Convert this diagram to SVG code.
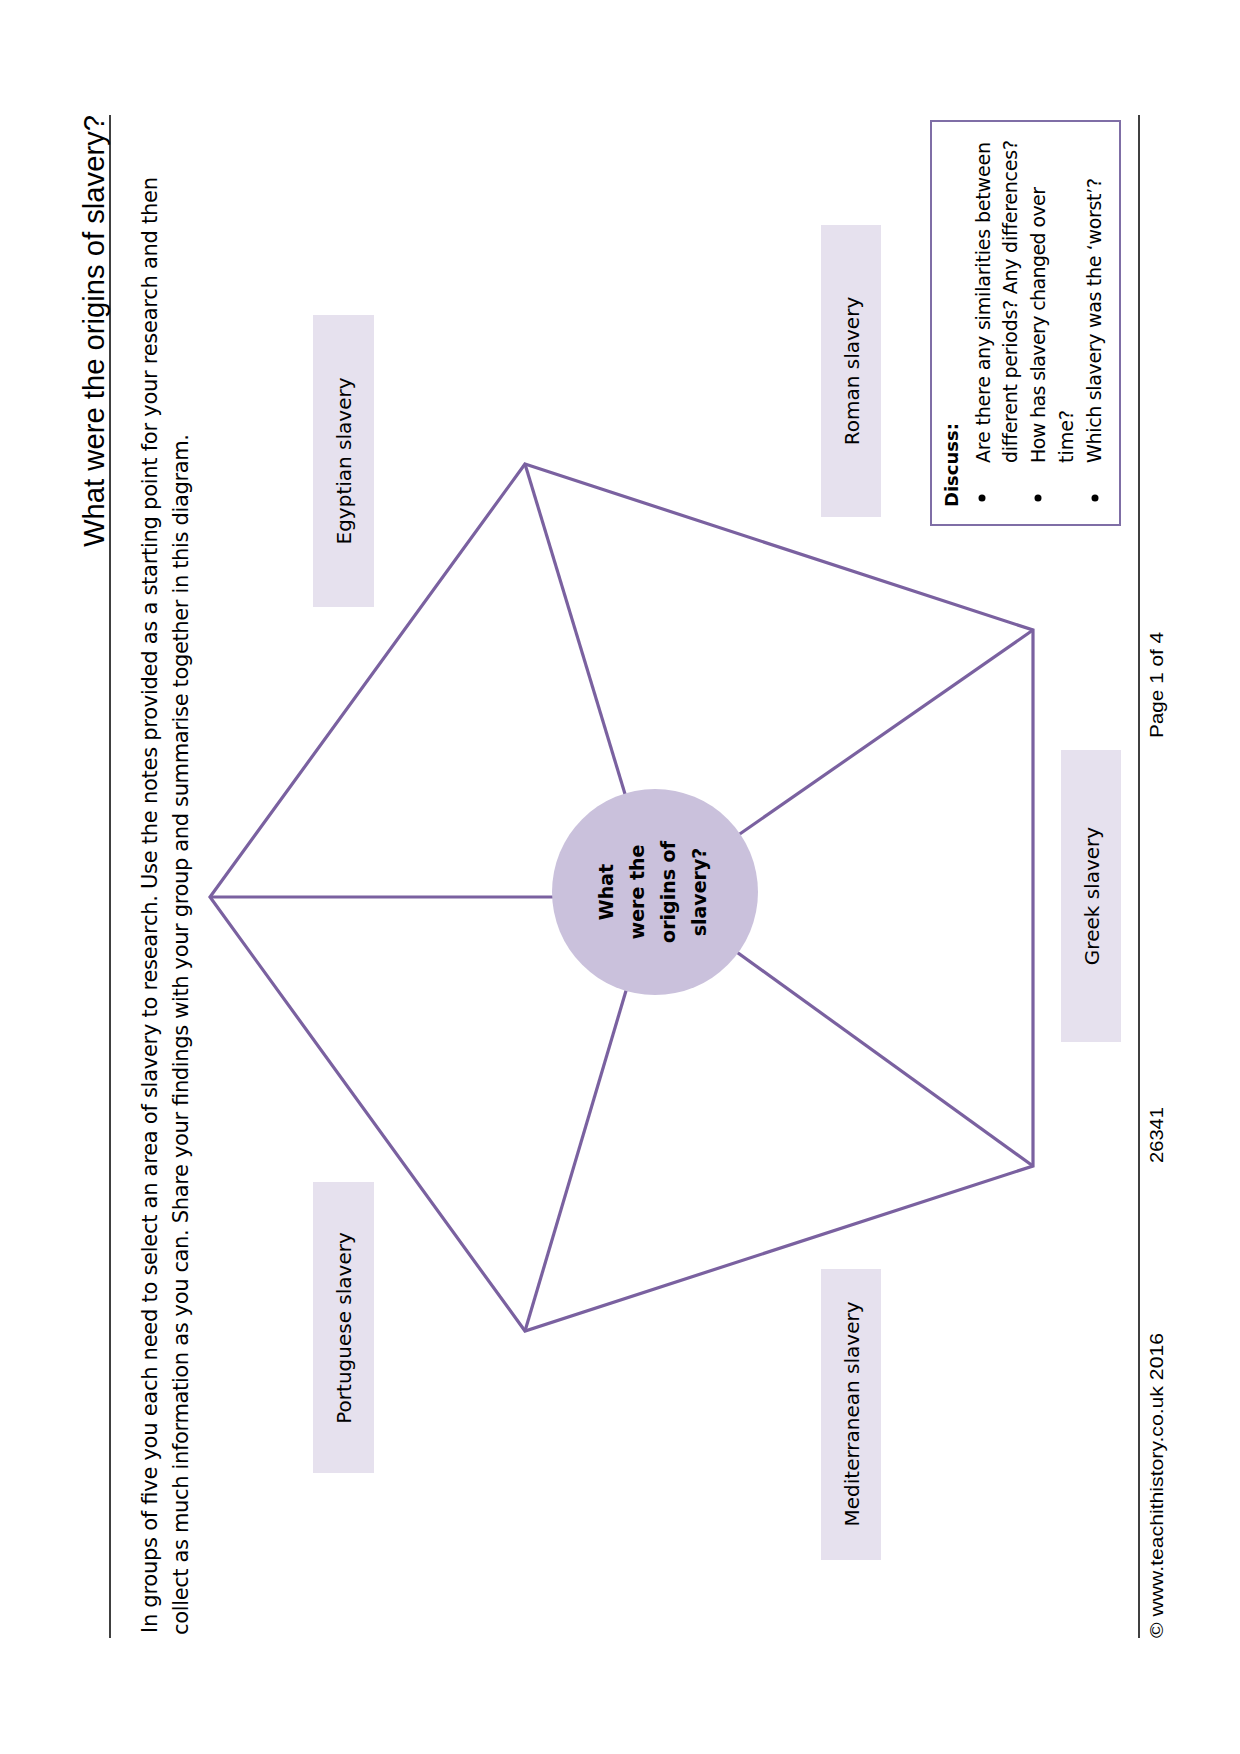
<svg xmlns="http://www.w3.org/2000/svg" width="1240" height="1754" viewBox="0 0 1240 1754">
<style>
.rule{stroke:#000;stroke-width:1.5}
.edge{stroke:#7a61a0;stroke-width:3.2;fill:none;stroke-linejoin:miter}
.lbl{fill:#e6e1ee}
.body{font-family:"DejaVu Sans","Liberation Sans",sans-serif;fill:#000}
.sans{font-family:"Liberation Sans",Arial,sans-serif;fill:#000}
</style>
<rect width="1240" height="1754" fill="#fff"/>
<g id="header">
<line class="rule" x1="110" y1="115" x2="110" y2="1638"/>
<text class="sans" font-size="29" textLength="432" lengthAdjust="spacingAndGlyphs" transform="translate(104,547) rotate(-90)">What were the origins of slavery?</text>
<text class="body" font-size="21" textLength="1456" transform="translate(157,1633) rotate(-90)">In groups of five you each need to select an area of slavery to research. Use the notes provided as a starting point for your research and then</text>
<text class="body" font-size="21" textLength="1201" transform="translate(188,1635) rotate(-90)">collect as much information as you can. Share your findings with your group and summarise together in this diagram.</text>
</g>
<g id="connectors">
<polygon class="edge" points="525,464 1033,630 1033,1166 525,1331 210,897"/>
<line class="edge" x1="525" y1="464" x2="655" y2="893"/>
<line class="edge" x1="1033" y1="630" x2="655" y2="893"/>
<line class="edge" x1="1033" y1="1166" x2="655" y2="893"/>
<line class="edge" x1="525" y1="1331" x2="655" y2="893"/>
<line class="edge" x1="210" y1="897" x2="655" y2="897"/>
</g>
<g id="center">
<circle cx="655" cy="892" r="103" fill="#cac1dc"/>
<g class="body" font-size="19" font-weight="bold" text-anchor="middle">
<text transform="translate(613,892) rotate(-90)">What</text>
<text transform="translate(644,892) rotate(-90)">were the</text>
<text transform="translate(675,892) rotate(-90)">origins of</text>
<text transform="translate(706,892) rotate(-90)">slavery?</text>
</g>
</g>
<g id="egyptian">
<rect class="lbl" x="313" y="315" width="61" height="292"/>
<text class="body" font-size="20" text-anchor="middle" transform="translate(351,461) rotate(-90)">Egyptian slavery</text>
</g>
<g id="portuguese">
<rect class="lbl" x="313" y="1182" width="61" height="291"/>
<text class="body" font-size="20" text-anchor="middle" transform="translate(351,1328) rotate(-90)">Portuguese slavery</text>
</g>
<g id="roman">
<rect class="lbl" x="821" y="225" width="60" height="292"/>
<text class="body" font-size="20" text-anchor="middle" transform="translate(859,371) rotate(-90)">Roman slavery</text>
</g>
<g id="mediterranean">
<rect class="lbl" x="821" y="1269" width="60" height="291"/>
<text class="body" font-size="20" text-anchor="middle" transform="translate(859,1414) rotate(-90)">Mediterranean slavery</text>
</g>
<g id="greek">
<rect class="lbl" x="1061" y="750" width="60" height="292"/>
<text class="body" font-size="20" text-anchor="middle" transform="translate(1099,896) rotate(-90)">Greek slavery</text>
</g>
<g id="discuss">
<rect x="931" y="121" width="189" height="404" fill="none" stroke="#7f6ea6" stroke-width="2"/>
<text class="body" font-size="18" font-weight="bold" transform="translate(958,507) rotate(-90)">Discuss:</text>
<circle cx="982" cy="498" r="3.5" fill="#000"/>
<circle cx="1038" cy="498" r="3.5" fill="#000"/>
<circle cx="1095" cy="498" r="3.5" fill="#000"/>
<g class="body" font-size="19">
<text textLength="321" transform="translate(990,463) rotate(-90)">Are there any similarities between</text>
<text textLength="323" transform="translate(1017,463) rotate(-90)">different periods? Any differences?</text>
<text textLength="276" transform="translate(1045,463) rotate(-90)">How has slavery changed over</text>
<text transform="translate(1073,463) rotate(-90)">time?</text>
<text textLength="285" transform="translate(1101,463) rotate(-90)">Which slavery was the ‘worst’?</text>
</g>
</g>
<g id="footer">
<line class="rule" x1="1139" y1="115" x2="1139" y2="1638"/>
<g class="sans" font-size="19">
<text textLength="305" lengthAdjust="spacingAndGlyphs" transform="translate(1163,1638) rotate(-90)">© www.teachithistory.co.uk 2016</text>
<text textLength="56" lengthAdjust="spacingAndGlyphs" transform="translate(1163,1163) rotate(-90)">26341</text>
<text textLength="106" lengthAdjust="spacingAndGlyphs" transform="translate(1163,738) rotate(-90)">Page 1 of 4</text>
</g>
</g>
</svg>
